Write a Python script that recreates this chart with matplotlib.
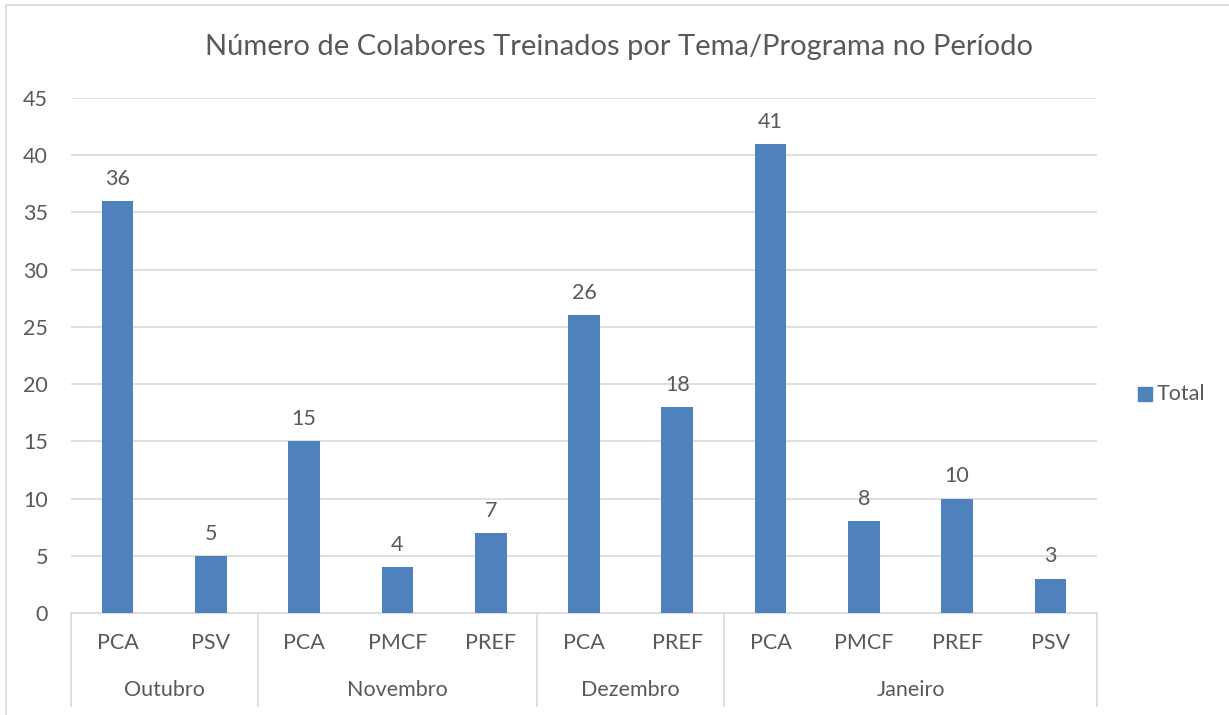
import matplotlib
matplotlib.use("Agg")
import matplotlib.pyplot as plt
import matplotlib.transforms as mtransforms
from matplotlib.patches import Rectangle

plt.rcParams["font.family"] = ["Lato", "DejaVu Sans"]

months = ["Outubro", "Novembro", "Dezembro", "Janeiro"]
programs = [
    ["PCA", "PSV"],
    ["PCA", "PMCF", "PREF"],
    ["PCA", "PREF"],
    ["PCA", "PMCF", "PREF", "PSV"],
]
totals = [
    [36, 5],
    [15, 4, 7],
    [26, 18],
    [41, 8, 10, 3],
]

BAR = "#4F81BD"
TEXT = "#595959"
GRID = "#D9D9D9"
FS = 15.5

labels = [p for grp in programs for p in grp]
values = [v for grp in totals for v in grp]
xs = list(range(len(values)))

fig = plt.figure(figsize=(12.29, 7.15), dpi=100)
ax = fig.add_axes([71 / 1229, 102 / 715, (1097 - 71) / 1229, (613 - 98) / 715])

ax.bar(xs, values, width=0.34, color=BAR, zorder=3, label="Total")
for x, v in zip(xs, values):
    ax.annotate(str(v), (x, v), xytext=(0, 16), textcoords="offset points",
                ha="center", va="center", fontsize=FS, color=TEXT)

ax.set_xlim(-0.5, len(values) - 0.5)
ax.set_ylim(0, 45)
ax.set_yticks(range(0, 46, 5))
ax.yaxis.grid(True, color=GRID, linewidth=1.2, zorder=0)
ax.tick_params(axis="y", length=0, pad=16.5, labelsize=FS, labelcolor=TEXT)
ax.set_xticks([])
for side in ["top", "right", "left"]:
    ax.spines[side].set_visible(False)
ax.spines["bottom"].set_color(GRID)
ax.spines["bottom"].set_linewidth(1.2)

# multi-level category axis
trans = mtransforms.blended_transform_factory(ax.transData, ax.transAxes)
lab_y = -30 / 515
grp_y = -77 / 515
line_bottom = -93 / 515
for x, lab in zip(xs, labels):
    ax.text(x, lab_y, lab, transform=trans, ha="center", va="center",
            fontsize=FS, color=TEXT)

start = 0
bounds = [-0.5]
for month, grp in zip(months, programs):
    end = start + len(grp)
    ax.text((start + end - 1) / 2, grp_y, month, transform=trans,
            ha="center", va="center", fontsize=FS, color=TEXT)
    bounds.append(end - 0.5)
    start = end
for b in bounds:
    ax.plot([b, b], [0, line_bottom], transform=trans, color=GRID,
            linewidth=1.2, clip_on=False)

fig.text(619 / 1229, 1 - 47 / 715,
         "Número de Colabores Treinados por Tema/Programa no Período",
         ha="center", va="center", fontsize=21, color=TEXT)

# legend
fig.add_artist(Rectangle((1138 / 1229, 1 - 401 / 715), 14 / 1229, 14 / 715,
                         transform=fig.transFigure, color=BAR))
fig.text(1157 / 1229, 1 - 394 / 715, "Total", ha="left", va="center",
         fontsize=FS, color=TEXT)

# chart border
fig.add_artist(Rectangle((6 / 1229, -0.01), 1.1, 1 - 5 / 715 + 0.01,
                         transform=fig.transFigure, fill=False,
                         edgecolor=GRID, linewidth=1.2))

fig.savefig("out.png", dpi=100, facecolor="white")
